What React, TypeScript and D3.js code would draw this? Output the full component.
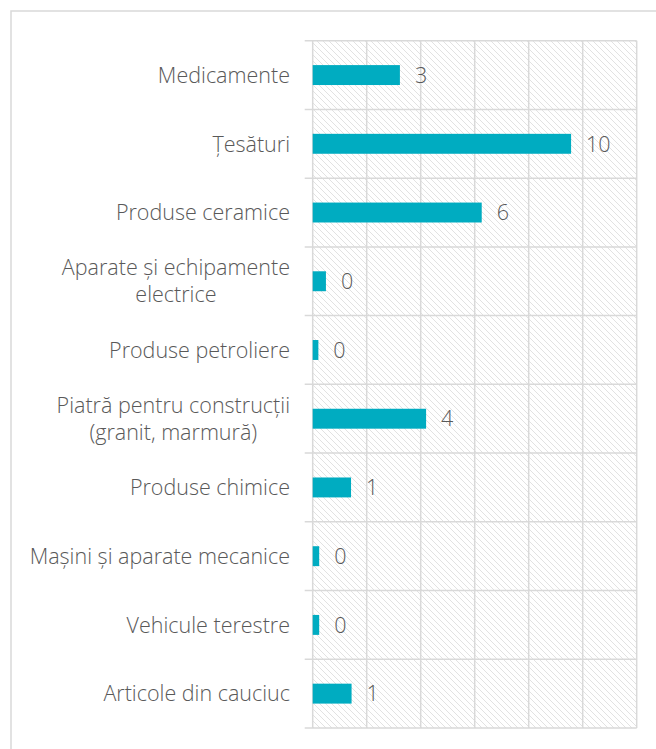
import * as d3 from "d3";

// categories, top to bottom
const categories = [
  ["Medicamente"],
  ["Țesături "],
  ["Produse ceramice"],
  ["Aparate și echipamente", "electrice"],
  ["Produse petroliere"],
  ["Piatră pentru construcții", "(granit, marmură)"],
  ["Produse chimice"],
  ["Mașini și aparate mecanice"],
  ["Vehicule terestre"],
  ["Articole din cauciuc"],
];
const values = [3.23, 9.57, 6.26, 0.49, 0.21, 4.2, 1.42, 0.24, 0.24, 1.44];
const xTicks = [0, 2, 4, 6, 8, 10, 12];

const W = 656;
const H = 749;
const plot = { left: 312.7, right: 636.7, top: 40.7, bottom: 728 };
const grid = "#d9d9d9";
const textColor = "#595959";
const font = "'Open Sans', sans-serif";
const fontSize = 21.5;
const labelRight = 290;

const measure = (() => {
  const ctx = document.createElement("canvas").getContext("2d");
  return (s: string) => {
    if (!ctx) return s.length * fontSize * 0.5;
    ctx.font = `300 ${fontSize}px ${font}`;
    return ctx.measureText(s).width;
  };
})();

export default function App() {
  const x = d3.scaleLinear().domain([0, 12]).range([plot.left, plot.right]);
  const y = d3
    .scaleBand()
    .domain(categories.map((_, i) => String(i)))
    .range([plot.top, plot.bottom])
    .padding(0);
  const barH = y.bandwidth() * 0.29;
  const bounds = d3.range(categories.length + 1).map((i) => plot.top + i * y.step());

  return (
    <div style={{ position: "fixed", left: 0, top: 0 }}>
      <svg width={W} height={H} style={{ display: "block" }}>
        <defs>
          <pattern id="hatch" width={6} height={6} patternUnits="userSpaceOnUse">
            <rect width={6} height={6} fill="#fff" />
            <path d="M-1,-1 L7,7 M-1,5 L1,7 M5,-1 L7,1" stroke="#e2e2e2" strokeWidth={1} />
          </pattern>
        </defs>
        <rect width={W} height={H} fill="#fff" />
        <rect x={11} y={11} width={W + 20} height={H + 20} fill="#fff" stroke={grid} strokeWidth={1.5} />
        <rect
          x={plot.left}
          y={plot.top}
          width={plot.right - plot.left}
          height={plot.bottom - plot.top}
          fill="url(#hatch)"
        />
        {xTicks.map((t) => (
          <line key={t} x1={x(t)} x2={x(t)} y1={plot.top} y2={plot.bottom} stroke={grid} strokeWidth={1.5} />
        ))}
        {bounds.map((b, i) => (
          <line key={i} x1={plot.left - 8} x2={plot.right} y1={b} y2={b} stroke={grid} strokeWidth={1.5} />
        ))}
        {values.map((v, i) => {
          const cy = (y(String(i)) as number) + y.bandwidth() / 2;
          const lines = categories[i];
          const multi = lines.length > 1;
          const maxW = d3.max(lines, measure) as number;
          const cx = labelRight - maxW / 2;
          return (
            <g key={i}>
              <rect x={x(0)} y={cy - barH / 2} width={x(v) - x(0)} height={barH} fill="#00acc1" />
              <text x={x(v) + 15} y={cy} dy="0.36em" fontSize={fontSize} fontFamily={font} fontWeight={300} fill={textColor}>
                {d3.format(".0f")(v)}
              </text>
              <text
                y={cy - ((lines.length - 1) * 27) / 2}
                fontSize={fontSize}
                fontFamily={font}
                fontWeight={300}
                fill={textColor}
              >
                {lines.map((line, j) => (
                  <tspan
                    key={j}
                    x={multi ? cx : labelRight}
                    textAnchor={multi ? "middle" : "end"}
                    dy={j === 0 ? "0.36em" : 27}
                  >
                    {line}
                  </tspan>
                ))}
              </text>
            </g>
          );
        })}
      </svg>
    </div>
  );
}
